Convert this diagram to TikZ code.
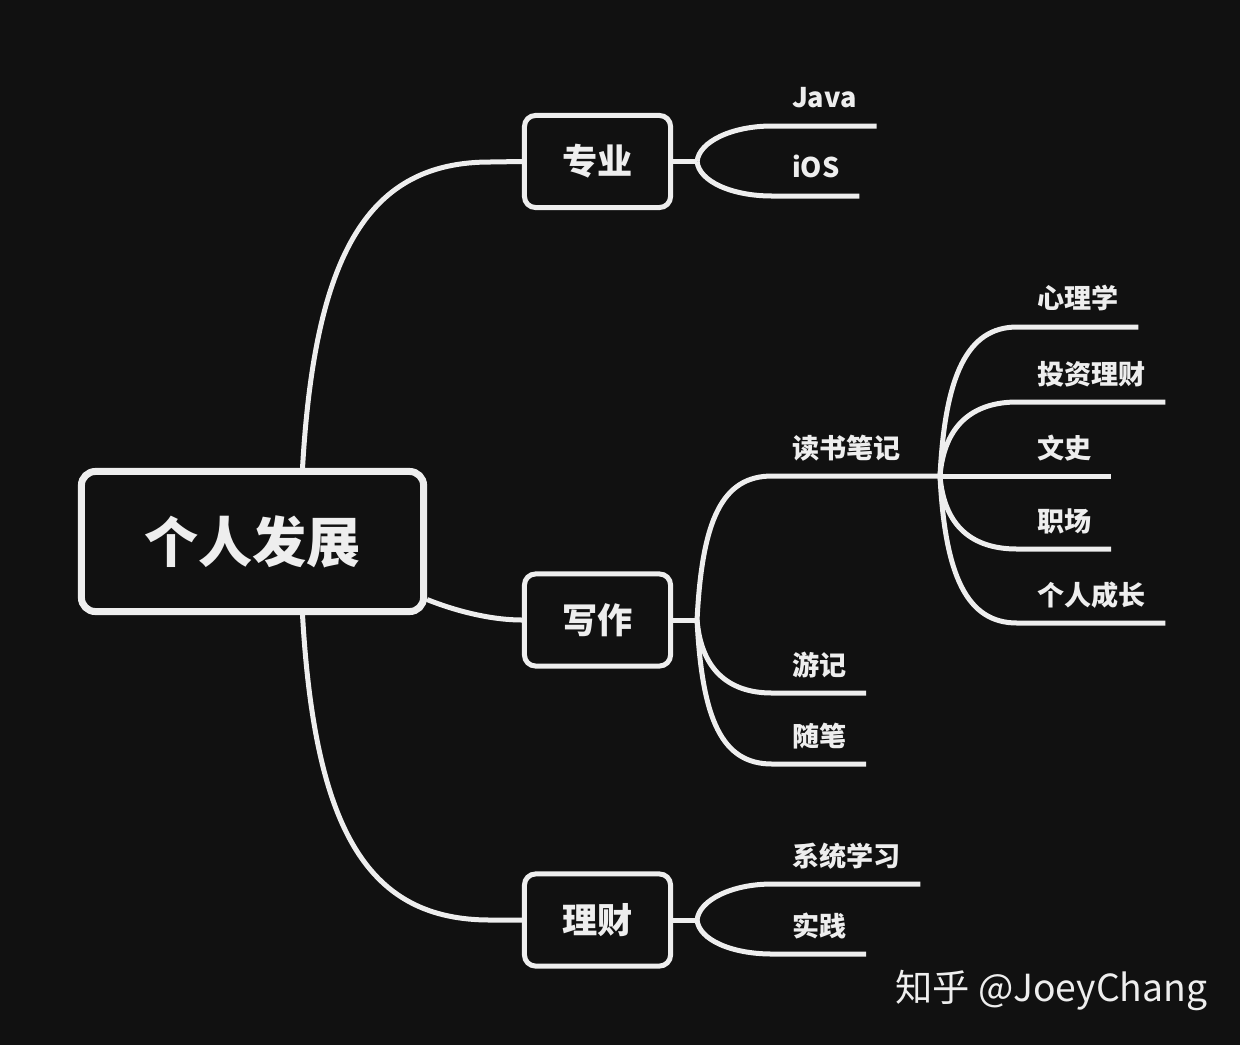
\documentclass[tikz,border=0pt]{standalone}
\usepackage{fontspec}
\newfontfamily\cjk{Noto Sans CJK SC}
\usetikzlibrary{calc}
\definecolor{bg}{HTML}{111111}
\definecolor{ink}{HTML}{EEEEEE}
\tikzset{
  topic/.style={draw=ink, line width=0.07cm, rounded corners=0.14cm, minimum width=3.42cm, minimum height=1.40cm, text=ink, font=\cjk\bfseries\fontsize{15.4}{18}\selectfont},
  sub/.style={draw=ink, line width=0.05cm, rounded corners=0.11cm, minimum width=1.46cm, minimum height=0.92cm, text=ink, font=\cjk\bfseries\fontsize{10}{12}\selectfont},
  leaf/.style={anchor=south west, inner xsep=0.2cm, inner ysep=0.14cm, outer sep=0pt, text depth=0.04cm, text=ink, font=\cjk\bfseries\fontsize{7.7}{9}\selectfont},
  branch/.style={draw=ink, line width=0.05cm},
}

\begin{document}
\begin{tikzpicture}[x=0.01cm, y=-0.01cm]
    \fill[bg] (0, 0) rectangle (1240, 1045);

    % main topics
    \node[topic] (root) at (252.5, 541.5) {个人发展};
    \node[sub] (zy) at (597.5, 161.5) {专业};
    \node[sub] (xz) at (597.5, 620) {写作};
    \node[sub] (lc) at (597.5, 920) {理财};

    \draw[branch] ([xshift=0.5cm]root.north) .. controls (315, 250) and (370, 162) .. (490, 162) -- (zy.west);
    \draw[branch] ([yshift=-0.58cm]root.east) .. controls +(30, 12) and +(-30, 0) .. (xz.west);
    \draw[branch] ([xshift=0.5cm]root.south) .. controls (315, 834) and (370, 920) .. (490, 920) -- (lc.west);

    % forks
    \coordinate (fzy) at ($(zy.east)+(24, 0)$);
    \coordinate (fxz) at ($(xz.east)+(24, 0)$);
    \coordinate (flc) at ($(lc.east)+(24, 0)$);
    \coordinate (fds) at (940, 476);
    \draw[branch] (zy.east) -- (fzy);
    \draw[branch] (xz.east) -- (fxz);
    \draw[branch] (lc.east) -- (flc);

    % 专业
    \node[leaf] (java) at (772, 126) {Java};
    \node[leaf] (ios) at (772, 196) {iOS};
    \draw[branch] (fzy) .. controls +(2, -20) and +(-40, 0) .. (java.south west) -- (java.south east);
    \draw[branch] (fzy) .. controls +(2, 20) and +(-40, 0) .. (ios.south west) -- (ios.south east);

    % 写作
    \node[leaf] (dsbj) at (772, 476) {读书笔记};
    \node[leaf] (yj) at (772, 693) {游记};
    \node[leaf] (sb) at (772, 764) {随笔};
    \draw[branch] (fxz) .. controls +(5, -100) and +(-50, 0) .. (dsbj.south west) -- (fds);
    \draw[branch] (fxz) .. controls +(4, 48) and +(-45, 0) .. (yj.south west) -- (yj.south east);
    \draw[branch] (fxz) .. controls +(5, 100) and +(-50, 0) .. (sb.south west) -- (sb.south east);

    % 读书笔记
    \node[leaf] (xlx) at (1017, 327) {心理学};
    \node[leaf] (tzlc) at (1017, 402) {投资理财};
    \node[leaf] (ws) at (1017, 476) {文史};
    \node[leaf] (zc) at (1017, 549) {职场};
    \node[leaf] (grcz) at (1017, 623) {个人成长};
    \draw[branch] (fds) .. controls +(5, -100) and +(-50, 0) .. (xlx.south west) -- (xlx.south east);
    \draw[branch] (fds) .. controls +(4, -50) and +(-45, 0) .. (tzlc.south west) -- (tzlc.south east);
    \draw[branch] (fds) -- (ws.south west) -- (ws.south east);
    \draw[branch] (fds) .. controls +(4, 50) and +(-45, 0) .. (zc.south west) -- (zc.south east);
    \draw[branch] (fds) .. controls +(5, 100) and +(-50, 0) .. (grcz.south west) -- (grcz.south east);

    % 理财
    \node[leaf] (xtxx) at (772, 884) {系统学习};
    \node[leaf] (sj) at (772, 954) {实践};
    \draw[branch] (flc) .. controls +(2, -20) and +(-40, 0) .. (xtxx.south west) -- (xtxx.south east);
    \draw[branch] (flc) .. controls +(2, 20) and +(-40, 0) .. (sj.south west) -- (sj.south east);

    \node[anchor=base east, inner sep=0pt, text=ink, font=\cjk\fontsize{10.6}{13}\selectfont] (mark) at (1208, 1001) {知乎 @JoeyChang};
\end{tikzpicture}
\end{document}
